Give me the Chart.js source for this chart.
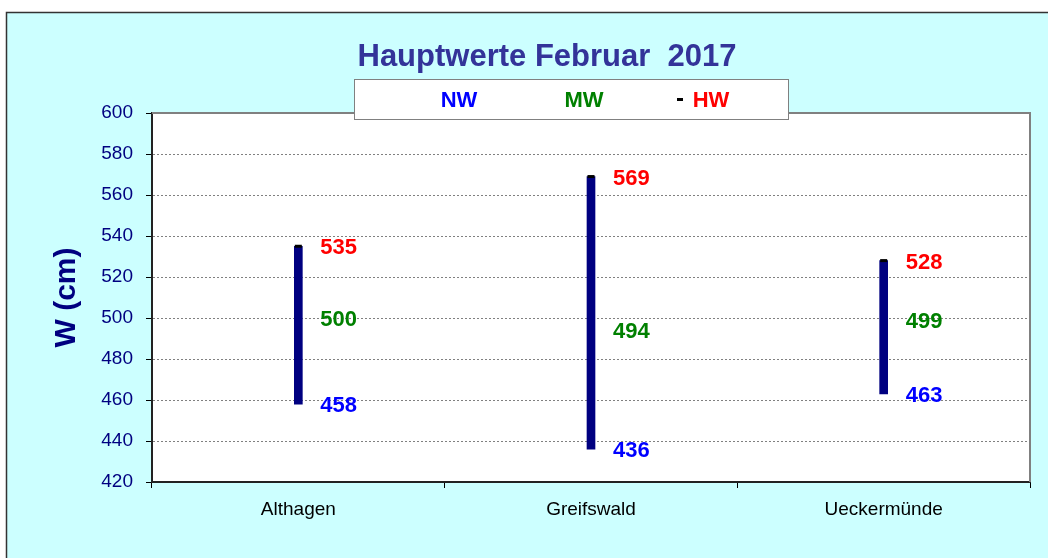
<!DOCTYPE html>
<html lang="de">
<head>
    <meta charset="UTF-8">
    <title>Hauptwerte Februar 2017</title>
    <script src="https://cdn.jsdelivr.net/npm/chart.js"></script>
    <style>
        body { margin: 0; background: #fff; }
        #wrap { position: relative; width: 1048px; height: 558px; }
    </style>
</head>
<body>
    <div id="wrap"><canvas id="hwChart" width="1048" height="558"></canvas></div>

    <script>
        const categories = ['Althagen', 'Greifswald', 'Ueckermünde'];
        const nwValues = [458, 436, 463];
        const mwValues = [500, 494, 499];
        const hwValues = [535, 569, 528];
        const yMin = 420;
        const yMax = 600;
        const yStep = 20;

        const fontFam = 'Arial, "Liberation Sans", sans-serif';

        // background frame, plot area, title, legend box, value labels
        const decor = {
            id: 'decor',
            beforeDraw(chart) {
                const c = chart.ctx;
                const a = chart.chartArea;
                c.save();
                c.fillStyle = '#ffffff';
                c.fillRect(0, 0, chart.width, chart.height);
                c.fillStyle = '#ccffff';
                c.fillRect(6, 12, chart.width + 20, chart.height + 20);
                c.strokeStyle = '#333333';
                c.lineWidth = 1.5;
                c.strokeRect(6.5, 12.5, chart.width + 20, chart.height + 20);
                c.fillStyle = '#ffffff';
                c.fillRect(a.left, a.top, a.right - a.left, a.bottom - a.top);
                c.restore();
            },
            afterDatasetsDraw(chart) {
                const c = chart.ctx;
                const a = chart.chartArea;
                const xs = chart.scales.x;
                const ys = chart.scales.y;
                c.save();
                // top and right plot border
                c.strokeStyle = '#808080';
                c.lineWidth = 2;
                c.beginPath();
                c.moveTo(a.left, a.top);
                c.lineTo(a.right, a.top);
                c.lineTo(a.right, a.bottom);
                c.stroke();

                c.font = 'bold 22px ' + fontFam;
                c.textAlign = 'left';
                c.textBaseline = 'middle';
                categories.forEach((cat, i) => {
                    const x = xs.getPixelForValue(i) + 22;
                    c.fillStyle = '#ff0000';
                    c.fillText(String(hwValues[i]), x, ys.getPixelForValue(hwValues[i]) + 2);
                    c.fillStyle = '#008000';
                    c.fillText(String(mwValues[i]), x, ys.getPixelForValue(mwValues[i]) + 2);
                    c.fillStyle = '#0000ff';
                    c.fillText(String(nwValues[i]), x, ys.getPixelForValue(nwValues[i]) + 2);
                });
                c.restore();
            },
            afterDraw(chart) {
                const c = chart.ctx;
                c.save();
                // title
                c.font = 'bold 31px ' + fontFam;
                c.fillStyle = '#333399';
                c.textAlign = 'center';
                c.textBaseline = 'middle';
                c.fillText('Hauptwerte Februar  2017', 547, 57);

                // legend box
                c.fillStyle = '#ffffff';
                c.fillRect(354, 79, 435, 41);
                c.strokeStyle = '#808080';
                c.lineWidth = 1;
                c.strokeRect(354.5, 79.5, 434, 40);

                c.font = 'bold 22px ' + fontFam;
                c.fillStyle = '#0000ff';
                c.fillText('NW', 459, 101);
                c.fillStyle = '#008000';
                c.fillText('MW', 584, 101);
                c.fillStyle = '#000000';
                c.fillRect(677, 98, 6, 3);
                c.fillStyle = '#ff0000';
                c.fillText('HW', 711, 101);
                c.restore();
            }
        };

        const ctx = document.getElementById('hwChart').getContext('2d');
        const chart = new Chart(ctx, {
            type: 'bar',
            data: {
                labels: categories,
                datasets: [
                    {
                        label: 'NW-HW',
                        data: nwValues.map((v, i) => [v, hwValues[i]]),
                        backgroundColor: '#000080',
                        borderWidth: 0,
                        barThickness: 8,
                        grouped: false,
                        order: 2
                    },
                    {
                        type: 'line',
                        label: 'HW',
                        data: hwValues,
                        showLine: false,
                        pointStyle: 'line',
                        pointRadius: 3.5,
                        pointBorderWidth: 3,
                        borderColor: '#000000',
                        backgroundColor: '#000000',
                        order: 1
                    }
                ]
            },
            options: {
                responsive: false,
                animation: false,
                layout: { padding: { left: 0, top: 113, right: 18, bottom: 36 } },
                plugins: {
                    legend: { display: false },
                    tooltip: { enabled: false }
                },
                scales: {
                    x: {
                        grid: {
                            display: true,
                            drawOnChartArea: false,
                            drawTicks: true,
                            offset: true,
                            tickLength: 6,
                            tickColor: '#000000'
                        },
                        border: { color: '#222222', width: 2 },
                        ticks: {
                            color: '#000000',
                            padding: 10,
                            font: { family: fontFam, size: 19 }
                        },
                        afterFit(scale) { scale.height = 40; }
                    },
                    y: {
                        min: yMin,
                        max: yMax,
                        ticks: {
                            stepSize: yStep,
                            color: '#000080',
                            padding: 13,
                            font: { family: fontFam, size: 19 }
                        },
                        grid: {
                            color: '#808080',
                            lineWidth: 1,
                            tickLength: 6,
                            tickColor: '#000000'
                        },
                        border: { color: '#222222', width: 2, dash: [2, 2] },
                        title: {
                            display: true,
                            text: 'W (cm)',
                            color: '#000080',
                            font: { family: fontFam, size: 30, weight: 'bold' },
                            padding: { top: 49, bottom: 0 }
                        },
                        afterFit(scale) { scale.width = 152; }
                    }
                }
            },
            plugins: [decor]
        });
    </script>
</body>
</html>
